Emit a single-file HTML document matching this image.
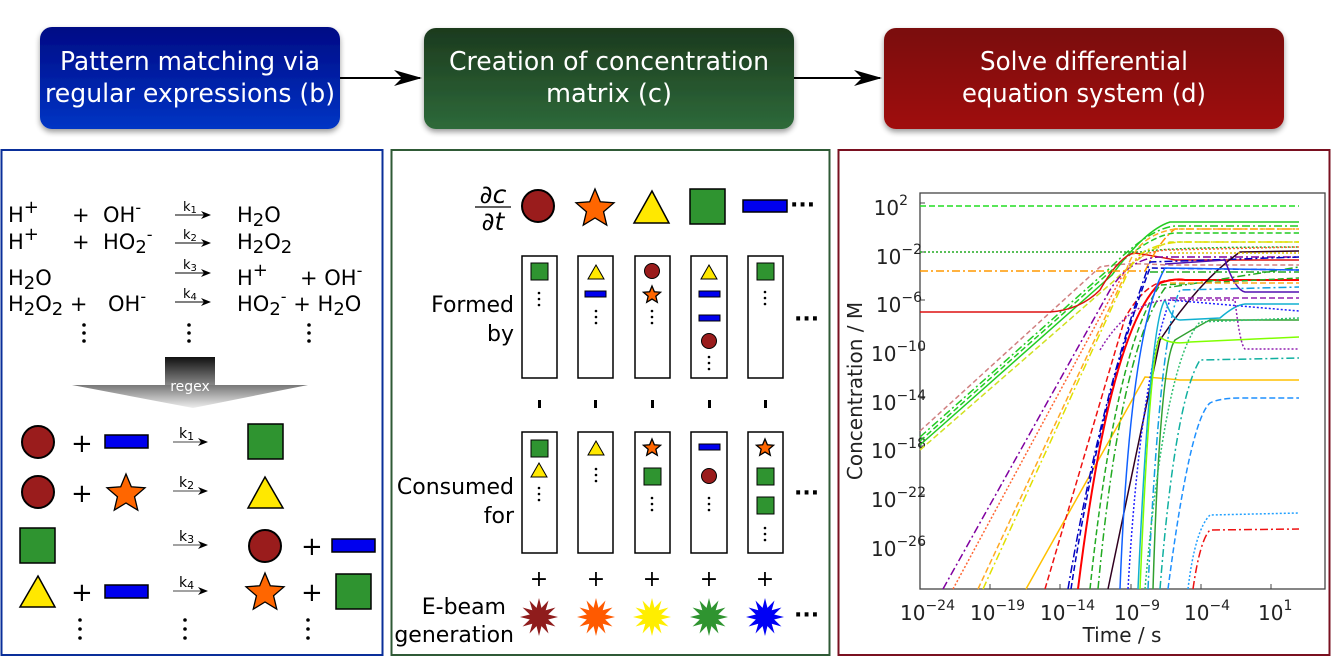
<!DOCTYPE html>
<html><head><meta charset="utf-8"><style>
html,body{margin:0;padding:0;background:#fff;}
svg{display:block;font-family:"DejaVu Sans","Liberation Sans",sans-serif;}
</style></head><body>
<svg width="1333" height="667" viewBox="0 0 1333 667" xmlns="http://www.w3.org/2000/svg">
<defs>
<linearGradient id="gb" x1="0" y1="0" x2="0" y2="1"><stop offset="0" stop-color="#020a85"/><stop offset="1" stop-color="#0535c5"/></linearGradient>
<linearGradient id="gg" x1="0" y1="0" x2="0" y2="1"><stop offset="0" stop-color="#1c3a1e"/><stop offset="1" stop-color="#2e6a3a"/></linearGradient>
<linearGradient id="gr" x1="0" y1="0" x2="0" y2="1"><stop offset="0" stop-color="#7a0808"/><stop offset="1" stop-color="#a00c0c"/></linearGradient>
<linearGradient id="gx" x1="0" y1="0" x2="0" y2="1"><stop offset="0" stop-color="#111"/><stop offset="1" stop-color="#888"/></linearGradient>
<linearGradient id="gt" x1="0" y1="0" x2="0" y2="1"><stop offset="0" stop-color="#777"/><stop offset="1" stop-color="#eee"/></linearGradient>
<filter id="sh" x="-10%" y="-10%" width="120%" height="130%"><feGaussianBlur in="SourceAlpha" stdDeviation="3"/><feOffset dy="3"/><feComponentTransfer><feFuncA type="linear" slope="0.4"/></feComponentTransfer><feMerge><feMergeNode/><feMergeNode in="SourceGraphic"/></feMerge></filter>
<polygon id="star" points="0,-1 0.265,-0.364 0.951,-0.309 0.428,0.139 0.588,0.809 0,0.45 -0.588,0.809 -0.428,0.139 -0.951,-0.309 -0.265,-0.364" stroke="#000" stroke-width="1.3" vector-effect="non-scaling-stroke"/>
<polygon id="burst" points="1,0 .483,.129 .866,.5 .354,.354 .5,.866 .129,.483 0,1 -.129,.483 -.5,.866 -.354,.354 -.866,.5 -.483,.129 -1,0 -.483,-.129 -.866,-.5 -.354,-.354 -.5,-.866 -.129,-.483 0,-1 .129,-.483 .5,-.866 .354,-.354 .866,-.5 .483,-.129"/>
<marker id="ah" markerWidth="10" markerHeight="8" refX="9" refY="4" orient="auto" markerUnits="userSpaceOnUse"><path d="M0,0 L10,4 L0,8 L3,4z" fill="#000"/></marker>
</defs>

<g filter="url(#sh)">
<rect x="40" y="27" width="300" height="102" rx="12" fill="url(#gb)"/>
<rect x="424" y="28" width="370" height="101" rx="12" fill="url(#gg)"/>
<rect x="884" y="28" width="400" height="101" rx="12" fill="url(#gr)"/>
</g>
<g fill="#fff" font-size="26" text-anchor="middle">
<text x="190" y="70" textLength="260" lengthAdjust="spacingAndGlyphs">Pattern matching via</text><text x="190" y="102" textLength="290" lengthAdjust="spacingAndGlyphs">regular expressions (b)</text>
<text x="609" y="70" textLength="320" lengthAdjust="spacingAndGlyphs">Creation of concentration</text><text x="609" y="102" textLength="126" lengthAdjust="spacingAndGlyphs">matrix (c)</text>
<text x="1084" y="70" textLength="208" lengthAdjust="spacingAndGlyphs">Solve differential</text><text x="1084" y="102" textLength="244" lengthAdjust="spacingAndGlyphs">equation system (d)</text>
</g>
<path d="M340 78 L420 78" stroke="#000" stroke-width="2"/><path d="M394 70 L422 78 L394 86 L402 78z"/>
<path d="M794 78 L880 78" stroke="#000" stroke-width="2"/><path d="M854 70 L882 78 L854 86 L862 78z"/>

<rect x="1.5" y="150" width="381" height="505" fill="none" stroke="#0a2f9a" stroke-width="2"/>
<rect x="391.5" y="150" width="438" height="505" fill="none" stroke="#2f5a36" stroke-width="2"/>
<rect x="838.5" y="150" width="491" height="505" fill="none" stroke="#7a1020" stroke-width="2"/>

<g font-size="21" fill="#000">
<text x="8" y="222">H<tspan dy="-9" font-size="18">+</tspan></text>
<text x="72" y="222">+</text><text x="103" y="222">OH<tspan dy="-9" font-size="16">-</tspan></text>
<text x="237" y="222">H<tspan dy="4" font-size="18">2</tspan><tspan dy="-4">O</tspan></text>
<text x="8" y="249">H<tspan dy="-9" font-size="18">+</tspan></text>
<text x="72" y="249">+</text><text x="103" y="249">HO<tspan dy="4" font-size="18">2</tspan><tspan dy="-13" font-size="16">-</tspan></text>
<text x="237" y="249">H<tspan dy="4" font-size="18">2</tspan><tspan dy="-4">O</tspan><tspan dy="4" font-size="18">2</tspan></text>
<text x="8" y="285">H<tspan dy="4" font-size="18">2</tspan><tspan dy="-4">O</tspan></text>
<text x="237" y="285">H<tspan dy="-9" font-size="18">+</tspan></text>
<text x="300" y="285">+ OH<tspan dy="-9" font-size="16">-</tspan></text>
<text x="8" y="311">H<tspan dy="4" font-size="18">2</tspan><tspan dy="-4">O</tspan><tspan dy="4" font-size="18">2</tspan><tspan dy="-4"> +</tspan></text>
<text x="108" y="311">OH<tspan dy="-9" font-size="16">-</tspan></text>
<text x="237" y="311">HO<tspan dy="4" font-size="18">2</tspan><tspan dy="-13" font-size="16">-</tspan><tspan dy="9"> + H</tspan><tspan dy="4" font-size="18">2</tspan><tspan dy="-4">O</tspan></text>
</g>
<g stroke="#000" stroke-width="1" marker-end="url(#ah)">
<path d="M175 215 L210 215"/><path d="M175 243 L210 243"/><path d="M175 273 L210 273"/><path d="M175 302 L210 302"/>
</g>
<g font-size="13"><text x="183" y="211">k<tspan dy="2" font-size="10">1</tspan></text><text x="183" y="239">k<tspan dy="2" font-size="10">2</tspan></text><text x="183" y="269">k<tspan dy="2" font-size="10">3</tspan></text><text x="183" y="298">k<tspan dy="2" font-size="10">4</tspan></text></g>
<g fill="#000">
<circle cx="84" cy="325" r="1.8"/><circle cx="84" cy="333" r="1.8"/><circle cx="84" cy="341" r="1.8"/>
<circle cx="189" cy="325" r="1.8"/><circle cx="189" cy="333" r="1.8"/><circle cx="189" cy="341" r="1.8"/>
<circle cx="309" cy="325" r="1.8"/><circle cx="309" cy="333" r="1.8"/><circle cx="309" cy="341" r="1.8"/>
</g>
<rect x="165" y="357" width="50" height="28" fill="url(#gx)"/>
<polygon points="72,385 308,385 193,408" fill="url(#gt)"/>
<text x="190" y="391" font-size="14" fill="#fff" text-anchor="middle">regex</text>

<g stroke="#000" stroke-width="1.5">
<circle cx="38" cy="442" r="16" fill="#9a1c1c" stroke-width="2"/>
<rect x="105" y="435" width="43" height="13" fill="#0000ee"/>
<rect x="248" y="424" width="35" height="35" fill="#2f9430"/>
<circle cx="38" cy="492" r="16" fill="#9a1c1c" stroke-width="2"/>
<use href="#star" transform="translate(126,494) scale(20)" fill="#ff6600"/>
<polygon points="265,477 283,508 248,508" fill="#ffe800"/>
<rect x="20" y="528" width="35" height="35" fill="#2f9430"/>
<circle cx="265" cy="546" r="16" fill="#9a1c1c" stroke-width="2"/>
<rect x="332" y="539" width="43" height="13" fill="#0000ee"/>
<polygon points="38,576 55,607 20,607" fill="#ffe800"/>
<rect x="105" y="585" width="43" height="13" fill="#0000ee"/>
<use href="#star" transform="translate(265,593) scale(20)" fill="#ff6600"/>
<rect x="336" y="574" width="35" height="35" fill="#2f9430"/>
</g>
<g font-size="26"><text x="71" y="452">+</text><text x="71" y="502">+</text><text x="301" y="555">+</text><text x="71" y="601">+</text><text x="301" y="601">+</text></g>
<g stroke="#444" stroke-width="1" marker-end="url(#ah)">
<path d="M173 442 L207 442"/><path d="M173 491 L207 491"/><path d="M173 545 L207 545"/><path d="M173 591 L207 591"/>
</g>
<g font-size="14"><text x="179" y="438">k<tspan dy="2" font-size="11">1</tspan></text><text x="179" y="487">k<tspan dy="2" font-size="11">2</tspan></text><text x="179" y="541">k<tspan dy="2" font-size="11">3</tspan></text><text x="179" y="587">k<tspan dy="2" font-size="11">4</tspan></text></g>
<g fill="#000">
<circle cx="80" cy="620" r="1.8"/><circle cx="80" cy="629" r="1.8"/><circle cx="80" cy="638" r="1.8"/>
<circle cx="185" cy="620" r="1.8"/><circle cx="185" cy="629" r="1.8"/><circle cx="185" cy="638" r="1.8"/>
<circle cx="308" cy="620" r="1.8"/><circle cx="308" cy="629" r="1.8"/><circle cx="308" cy="638" r="1.8"/>
</g>

<g font-size="25" font-style="italic" text-anchor="middle"><text x="493" y="203">∂c</text><text x="493" y="230">∂t</text></g>
<path d="M475 207 L511 207" stroke="#000" stroke-width="1.3"/>
<g stroke="#000" stroke-width="1.5">
<circle cx="538" cy="206" r="16" fill="#9a1c1c" stroke-width="2"/>
<use href="#star" transform="translate(595,209) scale(20)" fill="#ff6600"/>
<polygon points="652,191 669,223 634,223" fill="#ffe800"/>
<rect x="690" y="189" width="35" height="35" fill="#2f9430"/>
<rect x="743" y="200" width="44" height="12" fill="#0000ee"/>
</g>
<text x="790" y="212" font-size="22" font-weight="bold">···</text>
<g font-size="22" text-anchor="end"><text x="514" y="312">Formed</text><text x="514" y="341">by</text>
<text x="514" y="494">Consumed</text><text x="514" y="523">for</text>
<text x="506" y="614">E-beam</text><text x="514" y="642">generation</text></g>
<g fill="none" stroke="#000" stroke-width="1.5">
<rect x="522" y="256" width="35" height="122"/><rect x="578" y="256" width="35" height="122"/><rect x="635" y="256" width="35" height="122"/><rect x="691" y="256" width="36" height="122"/><rect x="748" y="256" width="35" height="122"/>
<rect x="522" y="432" width="35" height="121"/><rect x="578" y="432" width="35" height="121"/><rect x="635" y="432" width="35" height="121"/><rect x="691" y="432" width="36" height="121"/><rect x="748" y="432" width="35" height="121"/>
</g>
<g stroke="#000" stroke-width="1">
<rect x="531" y="263" width="17" height="17" fill="#2f9430"/>
<polygon points="596,265 604,279 588,279" fill="#ffe800"/>
<rect x="585" y="291" width="21" height="6" fill="#0000ee"/>
<circle cx="652" cy="271" r="7.5" fill="#9a1c1c"/>
<use href="#star" transform="translate(652,295) scale(9)" fill="#ff6600"/>
<polygon points="709,265 717,279 701,279" fill="#ffe800"/>
<rect x="699" y="291" width="21" height="6" fill="#0000ee"/>
<rect x="699" y="315" width="21" height="6" fill="#0000ee"/>
<circle cx="709" cy="341" r="7.5" fill="#9a1c1c"/>
<rect x="757" y="263" width="17" height="17" fill="#2f9430"/>
<rect x="531" y="440" width="17" height="17" fill="#2f9430"/>
<polygon points="539,463 547,477 531,477" fill="#ffe800"/>
<polygon points="596,441 604,455 588,455" fill="#ffe800"/>
<use href="#star" transform="translate(652,448) scale(9)" fill="#ff6600"/>
<rect x="644" y="468" width="17" height="17" fill="#2f9430"/>
<rect x="699" y="444" width="21" height="6" fill="#0000ee"/>
<circle cx="709" cy="476" r="7.5" fill="#9a1c1c"/>
<use href="#star" transform="translate(765,448) scale(9)" fill="#ff6600"/>
<rect x="757" y="468" width="17" height="17" fill="#2f9430"/>
<rect x="757" y="497" width="17" height="17" fill="#2f9430"/>
</g>
<g fill="#000">
<circle cx="539" cy="293" r="1.3"/><circle cx="539" cy="299" r="1.3"/><circle cx="539" cy="305" r="1.3"/>
<circle cx="596" cy="311" r="1.3"/><circle cx="596" cy="317" r="1.3"/><circle cx="596" cy="323" r="1.3"/>
<circle cx="652" cy="311" r="1.3"/><circle cx="652" cy="317" r="1.3"/><circle cx="652" cy="323" r="1.3"/>
<circle cx="709" cy="357" r="1.3"/><circle cx="709" cy="363" r="1.3"/><circle cx="709" cy="369" r="1.3"/>
<circle cx="765" cy="292" r="1.3"/><circle cx="765" cy="298" r="1.3"/><circle cx="765" cy="304" r="1.3"/>
<circle cx="539" cy="488" r="1.3"/><circle cx="539" cy="494" r="1.3"/><circle cx="539" cy="500" r="1.3"/>
<circle cx="596" cy="469" r="1.3"/><circle cx="596" cy="475" r="1.3"/><circle cx="596" cy="481" r="1.3"/>
<circle cx="652" cy="498" r="1.3"/><circle cx="652" cy="504" r="1.3"/><circle cx="652" cy="510" r="1.3"/>
<circle cx="709" cy="498" r="1.3"/><circle cx="709" cy="504" r="1.3"/><circle cx="709" cy="510" r="1.3"/>
<circle cx="765" cy="528" r="1.3"/><circle cx="765" cy="534" r="1.3"/><circle cx="765" cy="540" r="1.3"/>
<rect x="538" y="400" width="3" height="8"/><rect x="594" y="400" width="3" height="8"/><rect x="651" y="400" width="3" height="8"/><rect x="708" y="400" width="3" height="8"/><rect x="764" y="400" width="3" height="8"/>
</g>
<g font-size="22" text-anchor="middle"><text x="539" y="586">+</text><text x="596" y="586">+</text><text x="652" y="586">+</text><text x="709" y="586">+</text><text x="765" y="586">+</text></g>
<g font-size="22" font-weight="bold"><text x="794" y="326">···</text><text x="794" y="500">···</text><text x="794" y="622">···</text></g>
<use href="#burst" transform="translate(539,617) scale(19)" fill="#8f1c1c"/>
<use href="#burst" transform="translate(596,617) scale(19)" fill="#ff5a00"/>
<use href="#burst" transform="translate(652,617) scale(19)" fill="#ffee00"/>
<use href="#burst" transform="translate(709,617) scale(19)" fill="#2f9430"/>
<use href="#burst" transform="translate(765,617) scale(19)" fill="#0000f5"/>

<rect x="920" y="193" width="405" height="396" fill="#fff" stroke="#444" stroke-width="1.3"/>
<g stroke="#444" stroke-width="1">
<path d="M920 589 v-5 M990 589 v-5 M1060 589 v-5 M1131 589 v-5 M1201 589 v-5 M1271 589 v-5"/>
<path d="M920 203 h5 M920 252 h5 M920 300 h5 M920 349 h5 M920 398 h5 M920 446 h5 M920 495 h5 M920 544 h5"/>
</g>
<g font-size="20" fill="#222" text-anchor="end">
<text x="908" y="215">10<tspan dy="-10" font-size="14">2</tspan></text>
<text x="922" y="264">10<tspan dy="-10" font-size="14">−2</tspan></text>
<text x="922" y="312">10<tspan dy="-10" font-size="14">−6</tspan></text>
<text x="926" y="361">10<tspan dy="-10" font-size="14">−10</tspan></text>
<text x="926" y="410">10<tspan dy="-10" font-size="14">−14</tspan></text>
<text x="926" y="458">10<tspan dy="-10" font-size="14">−18</tspan></text>
<text x="926" y="507">10<tspan dy="-10" font-size="14">−22</tspan></text>
<text x="926" y="556">10<tspan dy="-10" font-size="14">−26</tspan></text>
</g>
<g font-size="20" fill="#222">
<text x="900" y="620">10<tspan dy="-10" font-size="14">−24</tspan></text>
<text x="970" y="620">10<tspan dy="-10" font-size="14">−19</tspan></text>
<text x="1040" y="620">10<tspan dy="-10" font-size="14">−14</tspan></text>
<text x="1114" y="620">10<tspan dy="-10" font-size="14">−9</tspan></text>
<text x="1184" y="620">10<tspan dy="-10" font-size="14">−4</tspan></text>
<text x="1258" y="620">10<tspan dy="-10" font-size="14">1</tspan></text>
</g>
<text x="1122" y="642" font-size="20" fill="#222" text-anchor="middle">Time / s</text>
<text transform="translate(862,391) rotate(-90)" font-size="20" fill="#222" text-anchor="middle">Concentration / M</text>

<g fill="none" stroke-width="1.5">
<path d="M920 206 L1299 206" stroke="#22dd22" stroke-dasharray="6 3"/>
<path d="M920 431 L1100 267 Q1125 262 1166 265 L1299 265" stroke="#d08080" stroke-dasharray="5 3"/>
<path d="M920 437 L1110 268 Q1150 228 1175 226 L1299 226" stroke="#22cc22" stroke-dasharray="8 3 2 3"/>
<path d="M920 441 L1112 270 Q1150 235 1175 233 L1299 233" stroke="#22cc22" stroke-dasharray="6 3"/>
<path d="M920 445 L1112 275 Q1145 230 1170 222 L1299 222" stroke="#22cc22"/>
<path d="M920 450 L1115 280 Q1145 250 1170 242 L1299 242" stroke="#d0e020" stroke-dasharray="6 3"/>
<path d="M920 312 L1050 312 Q1080 310 1100 290 Q1120 255 1135 253 Q1160 257 1175 260 L1299 260" stroke="#dd1111"/>
<path d="M920 252 L1140 252 Q1170 247 1299 247" stroke="#22aa22" stroke-dasharray="2 2"/>
<path d="M920 271 L1145 271 Q1160 240 1175 229 L1299 229" stroke="#ff9900" stroke-dasharray="8 3 2 3"/>
<path d="M943 589 L1110 290 Q1130 258 1160 257 L1299 257" stroke="#8000a0" stroke-dasharray="8 3 2 3"/>
<path d="M953 589 L1120 280 Q1135 250 1170 250 L1299 247" stroke="#ff6633" stroke-dasharray="2 2"/>
<path d="M978 589 L1125 275 Q1135 235 1175 229 L1299 229" stroke="#ffaa22" stroke-dasharray="6 3"/>
<path d="M983 589 L1130 268 Q1140 245 1180 242 L1299 242" stroke="#e0e000" stroke-dasharray="8 3 2 3"/>
<path d="M1026 589 L1145 377 Q1160 378 1180 380 L1299 380" stroke="#ffc000"/>
<path d="M1045 589 L1125 318 Q1145 282 1170 280 L1299 280" stroke="#ee1111" stroke-dasharray="6 3"/>
<path d="M1068 589 Q1100 400 1150 262 L1299 257" stroke="#0000c0" stroke-dasharray="8 3 2 3"/>
<path d="M1071 589 Q1100 400 1150 268 L1299 270" stroke="#0000c0" stroke-dasharray="6 3"/>
<path d="M1078 589 Q1110 330 1160 283 Q1175 278 1185 280 L1299 280" stroke="#ff0000" stroke-width="2"/>
<path d="M1090 589 Q1115 350 1160 285 L1299 278" stroke="#22aa22" stroke-dasharray="6 3"/>
<path d="M1098 589 Q1120 350 1165 288 L1299 267" stroke="#22aa22" stroke-dasharray="8 3 2 3"/>
<path d="M1108 589 L1160 340 Q1200 280 1240 252 L1299 251" stroke="#300020"/>
<path d="M1120 589 Q1130 330 1165 268 L1299 270" stroke="#1060ff"/>
<path d="M1128 589 Q1140 380 1170 300 L1299 311" stroke="#2020ff" stroke-dasharray="2 2"/>
<path d="M1138 589 Q1150 320 1165 300 Q1172 320 1180 320 L1220 318 Q1235 305 1245 304 L1299 304" stroke="#10b0d0"/>
<path d="M1148 589 Q1160 330 1180 290 L1299 287" stroke="#10a0e0" stroke-dasharray="8 3 2 3"/>
<path d="M1153 589 Q1160 360 1175 340 Q1200 325 1210 320 L1299 320" stroke="#30a030"/>
<path d="M1140 589 Q1150 350 1160 337 Q1170 345 1190 342 L1299 337" stroke="#80ff00"/>
<path d="M1160 589 Q1175 400 1200 360 L1299 358" stroke="#10b0a0" stroke-dasharray="8 3 2 3"/>
<path d="M1145 589 Q1165 360 1200 322 L1299 318" stroke="#30c070" stroke-dasharray="2 2"/>
<path d="M1168 589 Q1190 420 1210 403 Q1220 398 1240 398 L1299 398" stroke="#1e90ff" stroke-dasharray="6 3"/>
<path d="M1188 589 Q1195 530 1210 515 L1299 513" stroke="#20a0ff" stroke-dasharray="2 2"/>
<path d="M1193 589 Q1200 540 1210 530 L1299 529" stroke="#ee1111" stroke-dasharray="8 3 2 3"/>
<path d="M1100 350 Q1130 300 1170 300 L1235 300 Q1240 345 1245 349 L1299 349" stroke="#9020b0" stroke-dasharray="2 2"/>
<path d="M1165 264 L1225 260 Q1235 290 1245 292 L1299 292" stroke="#5010b0"/>
<path d="M1170 298 L1299 298" stroke="#9020b0" stroke-dasharray="6 3"/>
<path d="M1150 272 L1299 272" stroke="#22aa22" stroke-dasharray="8 3 2 3"/>
<path d="M1170 283 L1299 283" stroke="#ffaa22" stroke-dasharray="6 3"/>
<path d="M1170 253 L1299 253" stroke="#e0c000" stroke-dasharray="2 2"/>
</g>
</svg>
</body></html>
